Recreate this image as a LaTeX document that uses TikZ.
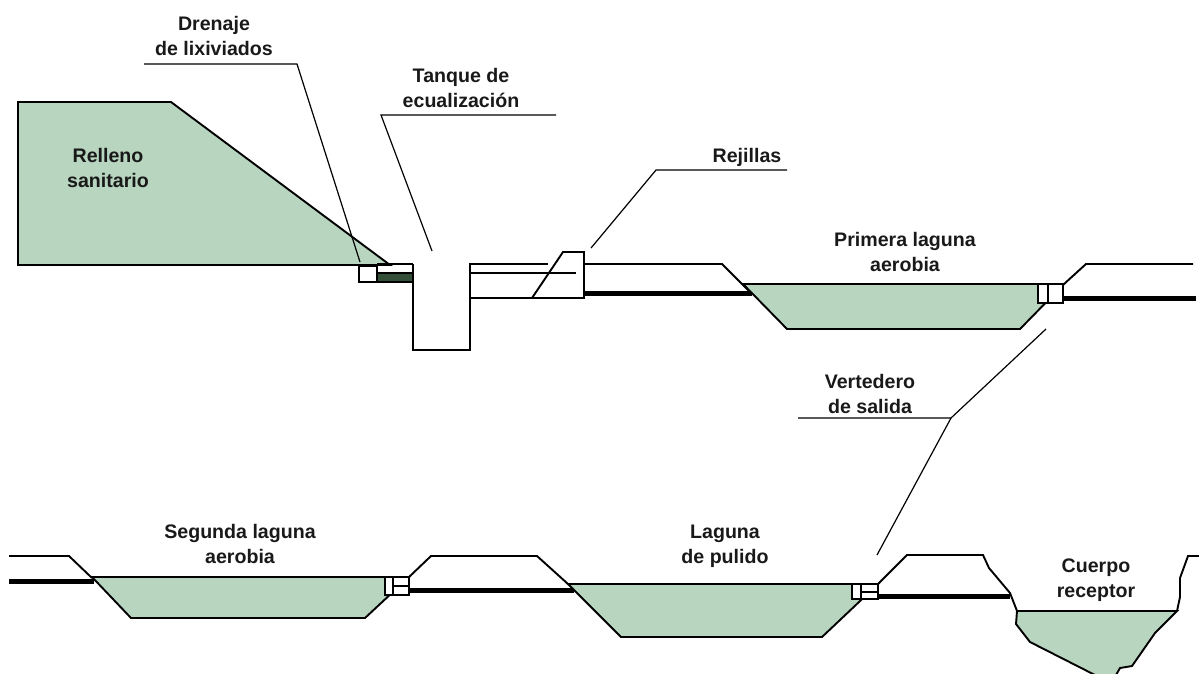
\documentclass[tikz,border=0pt]{standalone}
\usepackage{fontspec}
\setmainfont{Liberation Sans}
\definecolor{lagoon}{HTML}{B8D5C0}
\definecolor{darkfill}{HTML}{344F38}
\newcommand{\st}{\rule[-5pt]{0pt}{15pt}}
\tikzset{
  x=1pt,y=-1pt,
  ln/.style={draw=black,line width=1.9pt,line join=miter},
  thin line/.style={draw=black,line width=1.2pt},
  pipe/.style={draw=black,line width=5pt},
  water/.style={ln,fill=lagoon},
  box/.style={ln,fill=white},
  lbl/.style={font=\fontsize{19.6}{25}\selectfont\bfseries,align=center,inner sep=0pt,text=black!90}
}
\begin{document}
\begin{tikzpicture}
\useasboundingbox (0,0) rectangle (1199,673);
% landfill
\draw[water] (18,265) -- (18,102) -- (171,102) -- (390,265) -- cycle;
\node[lbl] (relleno) at (108,170.5) {\st Relleno\\\st sanitario};
% drainage and tank
\draw[ln,fill=darkfill] (377,273) rectangle (413,282);
\draw[ln] (377,264) -- (413,264);
\draw[box] (359,266) rectangle (377,282);
\draw[ln] (413,264) -- (413,350) -- (470,350) -- (470,264) -- (548,264);
\draw[ln] (470,273) -- (576,273);
\draw[ln] (470,298) -- (584,298) -- (584,252) -- (563,252) -- (532,298);
% channel to first lagoon
\draw[ln] (584,264) -- (722,264) -- (750,292);
\draw[pipe] (584,293) -- (752,293);
% first lagoon
\draw[water] (743,284) -- (1064,284) -- (1020,329) -- (787,329) -- cycle;
\draw[box] (1038,284) rectangle (1063,303);
\draw[ln] (1048,284) -- (1048,303);
\draw[ln] (1064,284) -- (1086,264) -- (1193,264);
\draw[pipe] (1063,298) -- (1196,298);
% second lagoon
\draw[ln] (9,556) -- (69,556) -- (92,578);
\draw[pipe] (9,581) -- (94,581);
\draw[water] (92,577) -- (409,577) -- (365,618) -- (131,618) -- cycle;
\draw[box] (385,577) rectangle (409,595);
\draw[ln] (393,577) -- (393,595);
\draw[ln] (393,586) -- (409,586);
\draw[ln] (409,577) -- (431,556) -- (537,556) -- (568,584);
\draw[pipe] (409,590) -- (574,590);
% polishing lagoon
\draw[water] (568,584) -- (878,584) -- (822,637) -- (621,637) -- cycle;
\draw[box] (852,584) rectangle (878,599);
\draw[ln] (861,584) -- (861,599);
\draw[ln] (861,592) -- (878,592);
\draw[ln] (878,584) -- (907,555) -- (983,555) -- (989,568) -- (1010,593) -- (1017,611);
\draw[pipe] (878,596) -- (1010,596);
% receiving body
\begin{scope}
\clip (1000,600) rectangle (1199,673);
\draw[water] (1017,611) -- (1016,624) -- (1030,642) -- (1095,675) -- (1116,675) -- (1120,668) -- (1132,666) -- (1155,633) -- (1177,611) -- cycle;
\end{scope}
\draw[ln] (1177,611) -- (1180,597) -- (1180,578) -- (1188,556) -- (1199,556);
% leaders
\coordinate (drenaje a) at (144,64);
\coordinate (drenaje b) at (297,64);
\coordinate (drenaje c) at (360,262);
\draw[thin line] (drenaje a) -- (drenaje b) -- (drenaje c);
\coordinate (tanque a) at (556,115);
\coordinate (tanque b) at (381,115);
\coordinate (tanque c) at (432,251);
\draw[thin line] (tanque a) -- (tanque b) -- (tanque c);
\coordinate (rej a) at (787,170);
\coordinate (rej b) at (656,170);
\coordinate (rej c) at (591,248);
\draw[thin line] (rej a) -- (rej b) -- (rej c);
\coordinate (vert a) at (798,418);
\coordinate (vert b) at (951,418);
\coordinate (vert c) at (1046,329);
\coordinate (vert d) at (877,555);
\draw[thin line] (vert a) -- (vert b) -- (vert c);
\draw[thin line] (vert b) -- (vert d);
% labels
\node[lbl] (drenajeT) at (214,38.5) {\st Drenaje\\\st de lixiviados};
\node[lbl] (tanqueT) at (461,90.5) {\st Tanque de\\\st ecualización};
\node[lbl] (rejT) at (747,158) {\st Rejillas};
\node[lbl] (prim) at (905,254.5) {\st Primera laguna\\\st aerobia};
\node[lbl] (vertT) at (870,396.5) {\st Vertedero\\\st de salida};
\node[lbl] (seg) at (240,546.5) {\st Segunda laguna\\\st aerobia};
\node[lbl] (pul) at (725,546.5) {\st Laguna\\\st de pulido};
\node[lbl] (cuer) at (1096,580.5) {\st Cuerpo\\\st receptor};
\end{tikzpicture}
\end{document}
